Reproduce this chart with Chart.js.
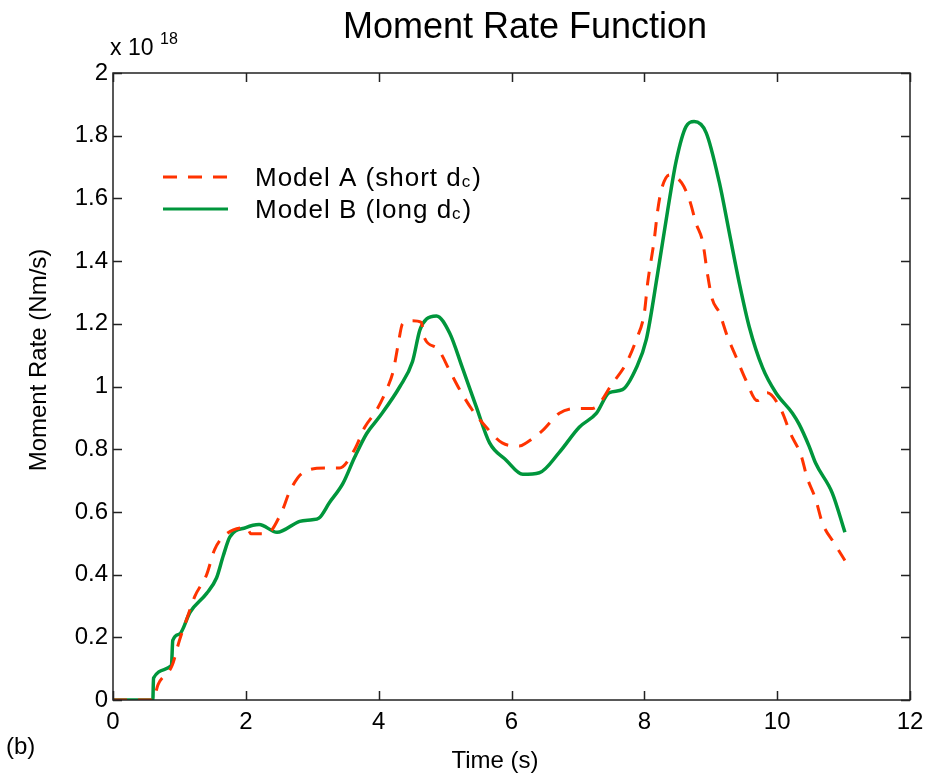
<!DOCTYPE html>
<html>
<head>
<meta charset="utf-8">
<script src="https://cdn.jsdelivr.net/npm/chart.js@4"></script>
<style>
  html, body { margin: 0; padding: 0; background: #fff; }
  #wrap { width: 935px; height: 779px; position: relative; }
</style>
</head>
<body>
<div id="wrap"><canvas id="mrfChart"></canvas></div>
<script>
// Moment rate function, values in units of 1e18 Nm/s

// Model A (short dc) - dashed red
const timeA = [0, 0.6, 0.68, 0.89, 1.0, 1.13, 1.23, 1.41, 1.53, 1.71, 2.01, 2.08, 2.31, 2.54, 2.66,
    2.86, 3.19, 3.41, 3.64, 3.79, 3.97, 4.14, 4.22, 4.29, 4.36, 4.51, 4.64, 4.69, 4.89, 5.07,
    5.22, 5.41, 5.62, 5.86, 6.12, 6.22, 6.47, 6.72, 6.98, 7.22, 7.52, 7.73, 7.88, 8.0, 8.05,
    8.15, 8.2, 8.26, 8.38, 8.56, 8.68, 8.78, 8.88, 8.95, 9.02, 9.13, 9.25, 9.38, 9.53, 9.7,
    9.85, 10.06, 10.2, 10.36, 10.45, 10.58, 10.68, 10.86, 11.02];
const rateA = [0, 0, 0.05, 0.11, 0.19, 0.27, 0.33, 0.40, 0.48, 0.53, 0.55, 0.53, 0.53, 0.60, 0.665,
    0.725, 0.74, 0.74, 0.80, 0.87, 0.925, 1.0, 1.05, 1.13, 1.20, 1.21, 1.205, 1.155, 1.12, 1.05,
    0.99, 0.925, 0.87, 0.82, 0.81, 0.82, 0.86, 0.915, 0.93, 0.93, 1.01, 1.075, 1.15, 1.235, 1.33,
    1.47, 1.56, 1.63, 1.675, 1.65, 1.595, 1.52, 1.46, 1.36, 1.28, 1.235, 1.16, 1.095, 1.02, 0.955,
    0.98, 0.925, 0.85, 0.78, 0.71, 0.64, 0.565, 0.50, 0.445];

// Model B (long dc) - solid green
const timeB = [0, 0.6, 0.61, 0.88, 0.9, 1.0, 1.16, 1.41, 1.56, 1.66, 1.76, 2.0, 2.2, 2.47, 2.81,
    3.0, 3.1, 3.26, 3.46, 3.64, 3.82, 4.0, 4.32, 4.51, 4.62, 4.72, 4.87, 5.07, 5.26, 5.47,
    5.67, 5.92, 6.17, 6.42, 6.72, 7.02, 7.28, 7.47, 7.67, 7.88, 8.03, 8.2, 8.35, 8.48, 8.63,
    8.75, 8.93, 9.13, 9.28, 9.43, 9.58, 9.78, 9.98, 10.23, 10.33, 10.48, 10.58, 10.83, 11.02];
const rateB = [0, 0, 0.07, 0.11, 0.19, 0.21, 0.28, 0.34, 0.39, 0.46, 0.52, 0.55, 0.56, 0.535, 0.57,
    0.575, 0.58, 0.63, 0.69, 0.775, 0.85, 0.9, 1.0, 1.08, 1.18, 1.215, 1.225, 1.17, 1.06, 0.935,
    0.82, 0.765, 0.72, 0.725, 0.79, 0.87, 0.915, 0.98, 0.99, 1.06, 1.15, 1.36, 1.56, 1.72, 1.83,
    1.845, 1.81, 1.65, 1.49, 1.33, 1.19, 1.06, 0.98, 0.915, 0.88, 0.81, 0.755, 0.66, 0.535];

const xTicks = [0, 2, 4, 6, 8, 10, 12];
const yTicks = [0, 0.2, 0.4, 0.6, 0.8, 1, 1.2, 1.4, 1.6, 1.8, 2];

const FONT = '"Liberation Sans", Arial, Helvetica, sans-serif';
const RED = '#ff3300';
const GREEN = '#00963c';

const toPoints = (xs, ys) => xs.map((x, i) => ({ x: x, y: ys[i] }));

// box, inward ticks, titles, exponent, legend
const decorPlugin = {
    id: 'decor',
    afterDraw(chart) {
        const ctx = chart.ctx;
        const { left, right, top, bottom } = chart.chartArea;
        const sx = chart.scales.x, sy = chart.scales.y;
        ctx.save();
        ctx.strokeStyle = '#222';
        ctx.lineWidth = 1.5;
        ctx.strokeRect(left, top, right - left, bottom - top);
        ctx.beginPath();
        xTicks.forEach(v => {
            const px = Math.round(sx.getPixelForValue(v)) + 0.5;
            ctx.moveTo(px, bottom); ctx.lineTo(px, bottom - 9);
            ctx.moveTo(px, top); ctx.lineTo(px, top + 9);
        });
        yTicks.forEach(v => {
            const py = Math.round(sy.getPixelForValue(v)) + 0.5;
            ctx.moveTo(left, py); ctx.lineTo(left + 9, py);
            ctx.moveTo(right, py); ctx.lineTo(right - 9, py);
        });
        ctx.stroke();

        ctx.fillStyle = '#000';
        ctx.textBaseline = 'alphabetic';
        ctx.textAlign = 'center';
        ctx.font = '36px ' + FONT;
        ctx.fillText('Moment Rate Function', 525, 38);

        // axis titles
        ctx.font = '24px ' + FONT;
        ctx.fillText('Time (s)', 495, 768);
        ctx.save();
        ctx.translate(46, 360);
        ctx.rotate(-Math.PI / 2);
        ctx.fillText('Moment Rate (Nm/s)', 0, 0);
        ctx.restore();

        ctx.textAlign = 'left';
        ctx.font = '23px ' + FONT;
        ctx.fillText('x 10', 110, 55);
        ctx.font = '16px ' + FONT;
        ctx.fillText('18', 160, 44);
        ctx.font = '24px ' + FONT;
        ctx.fillText('(b)', 6, 754);

        // legend
        const items = [
            { label: 'Model A (short d', color: RED, dash: [14, 11], y: 177 },
            { label: 'Model B (long d', color: GREEN, dash: [], y: 209 }
        ];
        items.forEach(it => {
            ctx.strokeStyle = it.color;
            ctx.lineWidth = 3;
            ctx.setLineDash(it.dash);
            ctx.beginPath();
            ctx.moveTo(163, it.y); ctx.lineTo(228, it.y);
            ctx.stroke();
            ctx.setLineDash([]);
            ctx.letterSpacing = '1px';
            ctx.font = '26px ' + FONT;
            ctx.fillText(it.label, 255, it.y + 9);
            let w = ctx.measureText(it.label).width;
            ctx.font = '17px ' + FONT;
            ctx.fillText('c', 255 + w, it.y + 10);
            w += ctx.measureText('c').width;
            ctx.font = '26px ' + FONT;
            ctx.fillText(')', 255 + w + 1, it.y + 9);
            ctx.letterSpacing = '0px';
        });
        ctx.restore();
    }
};

const ctxMrf = document.getElementById('mrfChart').getContext('2d');
new Chart(ctxMrf, {
    type: 'line',
    data: {
        datasets: [
            {
                label: 'Model A (short dc)',
                data: toPoints(timeA, rateA),
                borderColor: RED,
                borderWidth: 3,
                borderDash: [14, 11],
                pointRadius: 0,
                cubicInterpolationMode: 'monotone',
                fill: false
            },
            {
                label: 'Model B (long dc)',
                data: toPoints(timeB, rateB),
                borderColor: GREEN,
                borderWidth: 3.5,
                pointRadius: 0,
                cubicInterpolationMode: 'monotone',
                fill: false
            }
        ]
    },
    options: {
        responsive: true,
        maintainAspectRatio: false,
        animation: false,
        layout: { padding: { top: 73, right: 25, left: 0, bottom: 0 } },
        scales: {
            x: {
                type: 'linear',
                min: 0, max: 12,
                afterBuildTicks: s => { s.ticks = xTicks.map(v => ({ value: v })); },
                afterFit: s => { s.height = 79; },
                grid: { display: false, drawTicks: false },
                border: { display: false },
                ticks: { color: '#000', padding: 8, maxRotation: 0, font: { family: FONT, size: 24 } }
            },
            y: {
                min: 0, max: 2,
                afterBuildTicks: s => { s.ticks = yTicks.map(v => ({ value: v })); },
                afterFit: s => { s.width = 113; },
                grid: { display: false, drawTicks: false },
                border: { display: false },
                ticks: {
                    color: '#000', padding: 5,
                    font: { family: FONT, size: 24 },
                    callback: v => String(+v.toFixed(1))
                }
            }
        },
        plugins: {
            legend: { display: false },
            tooltip: { enabled: false }
        }
    },
    plugins: [decorPlugin]
});
</script>
</body>
</html>
